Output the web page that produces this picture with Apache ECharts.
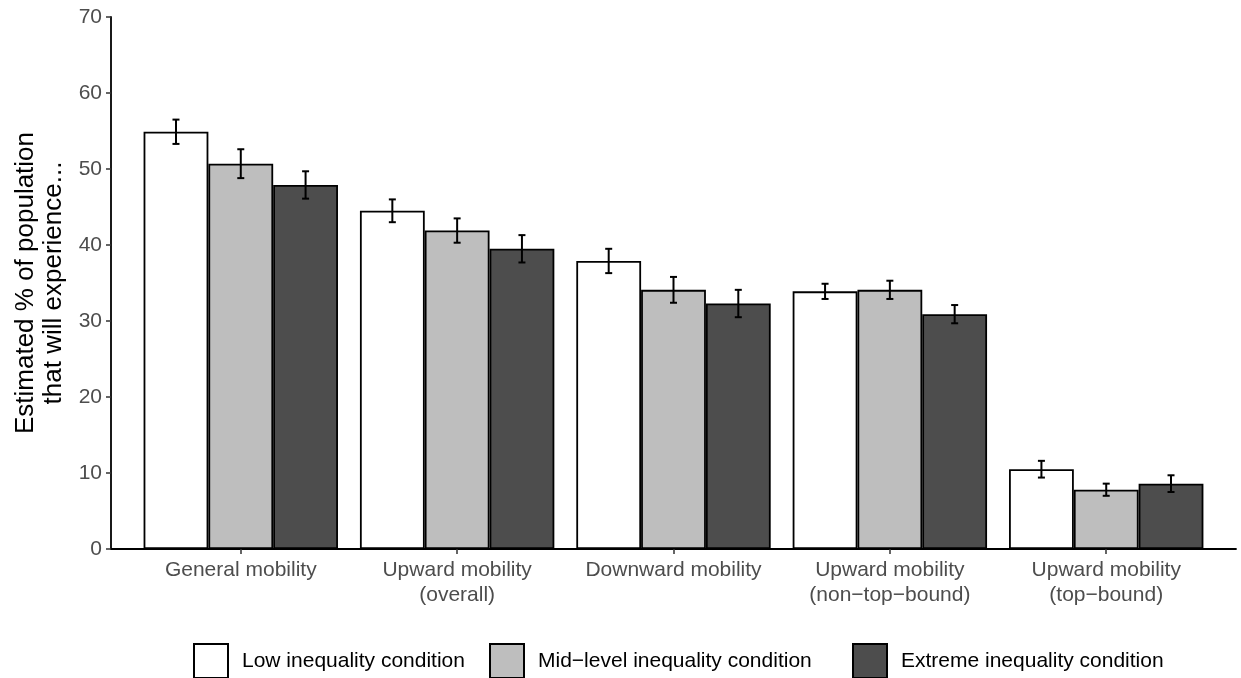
<!DOCTYPE html>
<html lang="en">
  <head>
    <meta charset="UTF-8" />
    <script src="https://cdn.jsdelivr.net/npm/echarts@6/dist/echarts.min.js"></script>
    <title>Mobility estimates</title>
    <style>
      html, body { margin: 0; padding: 0; background: #fff; }
      #app { width: 1241px; height: 678px; }
    </style>
  </head>
  <body>
    <div id="app"></div>
    <script>
      const categories = [
        "General mobility",
        "Upward mobility\n(overall)",
        "Downward mobility",
        "Upward mobility\n(non\u2212top\u2212bound)",
        "Upward mobility\n(top\u2212bound)",
      ];
      const seriesNames = [
        "Low inequality condition",
        "Mid\u2212level inequality condition",
        "Extreme inequality condition",
      ];
      const lowValues = [54.9, 44.5, 37.9, 33.9, 10.5];
      const midValues = [50.7, 41.9, 34.1, 34.1, 7.8];
      const extremeValues = [47.9, 39.5, 32.3, 30.9, 8.6];
      const lowErr = [1.6, 1.5, 1.6, 1.0, 1.1];
      const midErr = [1.9, 1.6, 1.7, 1.2, 0.8];
      const extremeErr = [1.8, 1.8, 1.8, 1.2, 1.1];
      const yTicks = [0, 10, 20, 30, 40, 50, 60, 70];

      const fills = ["#FFFFFF", "#BEBEBE", "#4D4D4D"];
      const values = [lowValues, midValues, extremeValues];
      const errs = [lowErr, midErr, extremeErr];

      // ggplot layout: axis 111..1236, band 216, 0.6 expansion each side
      const axisLeft = 111, axisRight = 1236, band = 216;
      const gridTop = 17, gridBottom = 678 - 549;
      const barW = band * 0.3;
      const font = "Liberation Sans, Arial, sans-serif";
      const legendLefts = [193, 489, 852];

      const barSeries = values.map((vals, s) => ({
        name: seriesNames[s],
        type: "bar",
        xAxisIndex: 1,
        yAxisIndex: 1,
        data: vals,
        barWidth: barW,
        barGap: "0%",
        itemStyle: { color: fills[s], borderColor: "#000", borderWidth: 1.8 },
        emphasis: { disabled: true },
        z: 2,
      }));

      const errSeries = values.map((vals, s) => ({
        type: "custom",
        xAxisIndex: 1,
        yAxisIndex: 1,
        data: vals.map((v, i) => [i, v, errs[s][i]]),
        renderItem(params, api) {
          const i = api.value(0), v = api.value(1), e = api.value(2);
          const top = api.coord([i, v + e]);
          const bot = api.coord([i, v - e]);
          const x = top[0] + (s - 1) * barW;
          const cap = 3.5;
          const style = { stroke: "#000", lineWidth: 2 };
          return {
            type: "group",
            children: [
              { type: "line", shape: { x1: x, y1: top[1], x2: x, y2: bot[1] }, style },
              { type: "line", shape: { x1: x - cap, y1: top[1], x2: x + cap, y2: top[1] }, style },
              { type: "line", shape: { x1: x - cap, y1: bot[1], x2: x + cap, y2: bot[1] }, style },
            ],
          };
        },
        z: 3,
        silent: true,
      }));

      // one legend per entry so each key sits where ggplot put it
      const legends = seriesNames.map((name, s) => ({
        top: 643,
        left: legendLefts[s],
        padding: 0,
        itemWidth: 34,
        itemHeight: 34,
        icon: "rect",
        selectedMode: false,
        data: [name],
        textStyle: { fontSize: 21, color: "#000", fontFamily: font, padding: [0, 0, 0, 9] },
      }));

      const chart = echarts.init(document.getElementById("app"));
      chart.setOption({
        animation: false,
        textStyle: { fontFamily: font },
        legend: legends,
        grid: [
          { left: axisLeft, right: 1241 - axisRight, top: gridTop, bottom: gridBottom },
          {
            left: axisLeft + 0.1 * band,
            right: 1241 - axisRight + 0.1 * band,
            top: gridTop,
            bottom: gridBottom,
          },
        ],
        xAxis: [
          {
            type: "value",
            gridIndex: 0,
            min: 0,
            max: 1,
            axisLine: { show: true, lineStyle: { color: "#000", width: 1.8 } },
            axisTick: { show: false },
            axisLabel: { show: false },
            splitLine: { show: false },
          },
          {
            type: "category",
            gridIndex: 1,
            data: categories,
            axisLine: { show: false },
            axisTick: { show: true, alignWithLabel: true, length: 5, lineStyle: { color: "#333", width: 1.5 } },
            axisLabel: {
              interval: 0,
              color: "#4D4D4D",
              fontSize: 21,
              margin: 9,
              lineHeight: 25,
              fontFamily: font,
            },
            splitLine: { show: false },
          },
        ],
        yAxis: [
          {
            type: "value",
            gridIndex: 0,
            min: yTicks[0],
            max: yTicks[yTicks.length - 1],
            interval: 10,
            name: "Estimated % of population\nthat will experience...",
            nameLocation: "middle",
            nameGap: 33,
            nameTextStyle: { fontSize: 26, color: "#000", lineHeight: 28, fontFamily: font },
            axisLine: { show: true, lineStyle: { color: "#000", width: 1.8 } },
            axisTick: { show: true, length: 5, lineStyle: { color: "#333", width: 1.5 } },
            axisLabel: { color: "#4D4D4D", fontSize: 21, margin: 9, fontFamily: font },
            splitLine: { show: false },
          },
          {
            type: "value",
            gridIndex: 1,
            min: yTicks[0],
            max: yTicks[yTicks.length - 1],
            interval: 10,
            show: false,
            splitLine: { show: false },
          },
        ],
        series: [...barSeries, ...errSeries],
      });
    </script>
  </body>
</html>
